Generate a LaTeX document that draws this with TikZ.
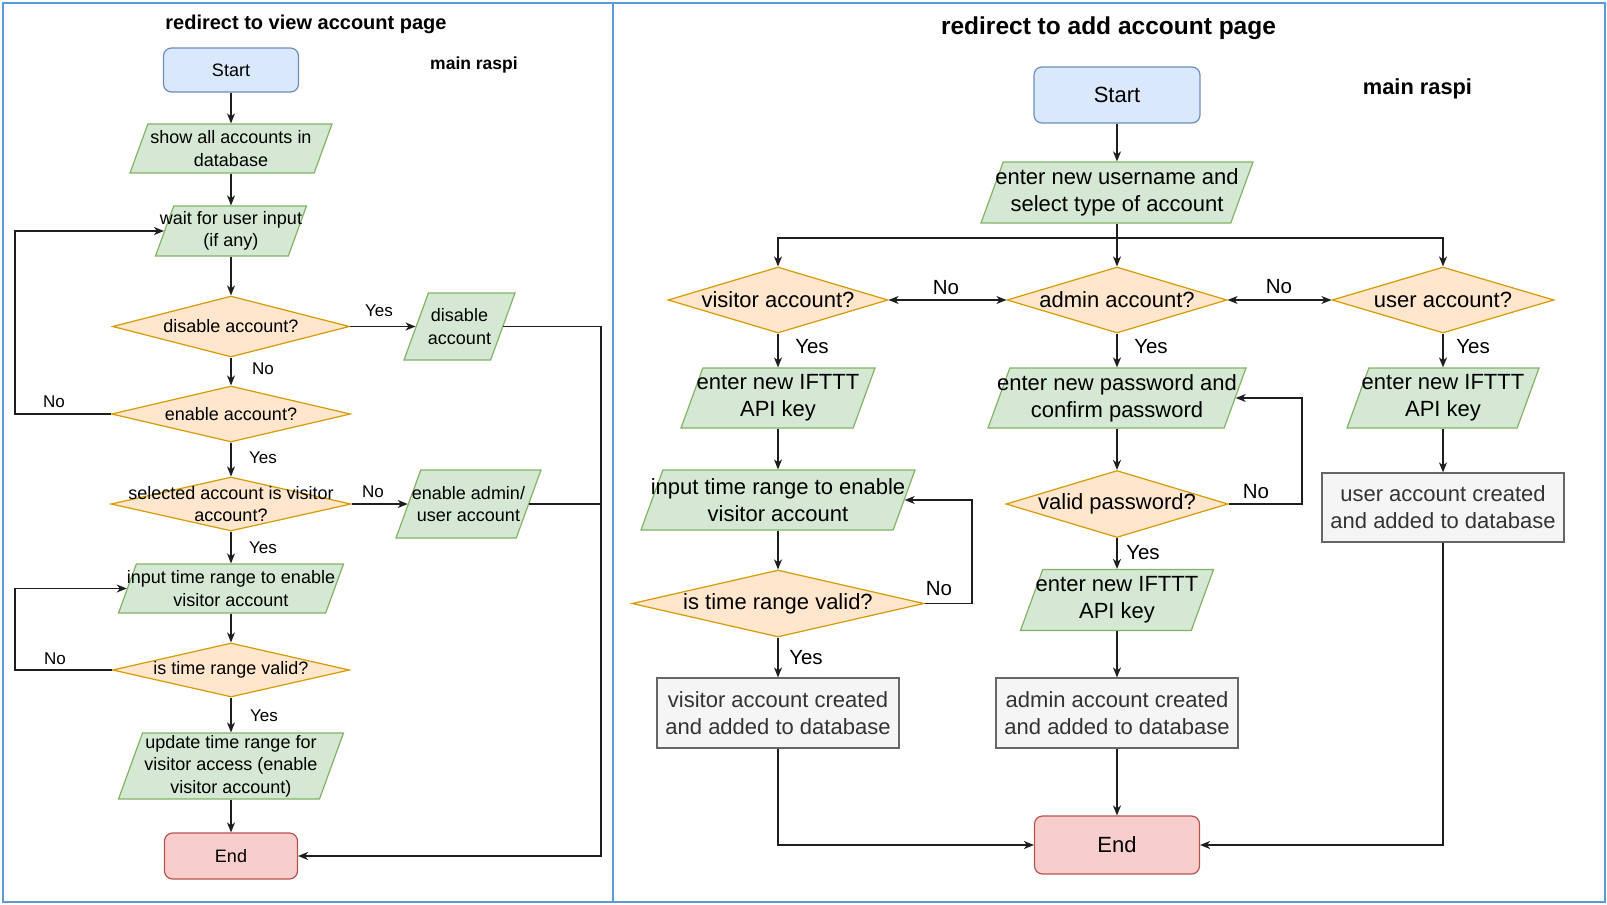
\documentclass[tikz,border=0pt]{standalone}
\usepackage{fontspec}
\setmainfont{Liberation Sans}
\usetikzlibrary{shapes.geometric,arrows.meta}

\definecolor{frameblue}{RGB}{91,155,213}
\definecolor{bluefill}{HTML}{DAE8FC}
\definecolor{blueline}{HTML}{6C8EBF}
\definecolor{greenfill}{HTML}{D5E8D4}
\definecolor{greenline}{HTML}{82B366}
\definecolor{orangefill}{HTML}{FFE6CC}
\definecolor{orangeline}{HTML}{D79B00}
\definecolor{redfill}{HTML}{F8CECC}
\definecolor{redline}{HTML}{B85450}
\definecolor{grayfill}{HTML}{F5F5F5}
\definecolor{grayline}{HTML}{666666}
\definecolor{graytext}{HTML}{333333}
\definecolor{wirecol}{HTML}{1E1E1E}

\tikzset{
  ltxt/.style={font=\fontsize{18}{22.5}\selectfont, align=center},
  rtxt/.style={font=\fontsize{22}{27}\selectfont, align=center},
  ltitle/.style={font=\bfseries\fontsize{20}{24}\selectfont},
  rtitle/.style={font=\bfseries\fontsize{24.5}{29}\selectfont},
  lhead/.style={font=\bfseries\fontsize{17.5}{21}\selectfont},
  rhead/.style={font=\bfseries\fontsize{21.8}{26}\selectfont},
  lans/.style={font=\fontsize{17}{20}\selectfont, inner sep=0pt},
  rans/.style={font=\fontsize{20.5}{24}\selectfont, inner sep=0pt},
  startbox/.style={draw=blueline, fill=bluefill, rounded corners=8pt, line width=1.2pt, inner sep=0pt},
  endbox/.style={draw=redline, fill=redfill, rounded corners=8pt, line width=1.2pt, inner sep=0pt},
  procbox/.style={draw=grayline, fill=grayfill, text=graytext, line width=1.2pt, inner sep=0pt},
  % total width / height of the slanted input box
  iobox/.style 2 args={trapezium, trapezium left angle=70, trapezium right angle=110,
    inner xsep={#1/2-#2*0.364}, inner ysep={#2/2},
    draw=greenline, fill=greenfill, line width=1.2pt},
  decision/.style={diamond, draw=orangeline, fill=orangefill, line width=1.2pt, inner sep=0pt},
  wire/.style={draw=wirecol, line width=1.3pt},
  flow/.style={wire, -{Stealth[length=10pt, width=8pt, inset=3pt]}},
  biflow/.style={wire, {Stealth[length=10pt, width=8pt, inset=3pt]}-{Stealth[length=10pt, width=8pt, inset=3pt]}}
}

\begin{document}
\begin{tikzpicture}[x=1pt, y=-1pt]
  \useasboundingbox (0,0) rectangle (1607,905);
  \draw[frameblue, line width=2.5pt] (3,3) rectangle (1605,902);
  \draw[frameblue, line width=2.5pt] (613,3) -- (613,902);

  % view account page
  \node[ltitle] (vtitle) at (306,24) {redirect to view account page};
  \node[lhead] (vmain) at (474,65) {main raspi};
  \node[startbox, ltxt, minimum width=135pt, minimum height=44pt] (vstart) at (231,70) {Start};
  \node[iobox={202}{49}, label={[ltxt]center:show all accounts in\\database}] (vshow) at (231,148.5) {};
  \node[iobox={151}{50}, label={[ltxt]center:wait for user input\\(if any)}] (vwait) at (231,231) {};
  \node[decision, minimum width=237pt, minimum height=61pt, label={[ltxt]center:disable account?}] (vdis) at (231,326.5) {};
  \node[iobox={111}{67}, label={[ltxt]center:disable\\account}] (vdisacc) at (459.5,326.5) {};
  \node[decision, minimum width=239pt, minimum height=56pt, label={[ltxt]center:enable account?}] (ven) at (231,414) {};
  \node[decision, minimum width=240pt, minimum height=54pt, label={[ltxt]center:selected account is visitor\\account?}] (vsel) at (231,504) {};
  \node[iobox={145}{68}, label={[ltxt]center:enable admin/\\user account}] (venacc) at (468.5,504) {};
  \node[iobox={225}{49}, label={[ltxt]center:input time range to enable\\visitor account}] (vtime) at (231,588.5) {};
  \node[decision, minimum width=237pt, minimum height=54pt, label={[ltxt]center:is time range valid?}] (vvalid) at (231,670) {};
  \node[iobox={225}{66}, label={[ltxt]center:update time range for\\visitor access (enable\\visitor account)}] (vupd) at (231,766) {};
  \node[endbox, ltxt, minimum width=133pt, minimum height=46pt] (vend) at (231,856) {End};
  \coordinate (vleft) at (15,0);
  \coordinate (vright) at (601,0);

  \node[lans] (vyes1) at (379,311) {Yes};
  \node[lans] (vno1) at (263,369) {No};
  \node[lans] (vno2) at (54,402) {No};
  \node[lans] (vyes2) at (263,458) {Yes};
  \node[lans] (vno3) at (373,492) {No};
  \node[lans] (vyes3) at (263,548) {Yes};
  \node[lans] (vno4) at (55,659) {No};
  \node[lans] (vyes4) at (264,716) {Yes};

  \draw[flow] (vstart) -- (vshow);
  \draw[flow] (vshow) -- (vwait);
  \draw[flow] (vwait) -- (vdis);
  \draw[flow] (vdis) -- (ven);
  \draw[flow] (ven) -- (vsel);
  \draw[flow] (vsel) -- (vtime);
  \draw[flow] (vtime) -- (vvalid);
  \draw[flow] (vvalid) -- (vupd);
  \draw[flow] (vupd) -- (vend);
  \draw[flow] (vdis) -- (vdisacc);
  \draw[flow] (vsel) -- (venacc);
  \draw[flow] (ven.west) -- (ven.west -| vleft) |- (vwait.west);
  \draw[flow] (vvalid.west) -- (vvalid.west -| vleft) |- (vtime.west);
  \draw[flow] (vdisacc.east) -- (vdisacc.east -| vright) |- (vend.east);
  \draw[wire] (venacc.east) -- (venacc.east -| vright);

  % add account page
  \node[rtitle] (atitle) at (1108.5,28) {redirect to add account page};
  \node[rhead] (amain) at (1417.5,89) {main raspi};
  \node[startbox, rtxt, minimum width=166pt, minimum height=56pt] (astart) at (1117,95) {Start};
  \node[iobox={272}{61}, label={[rtxt]center:enter new username and\\select type of account}] (aname) at (1117,192.5) {};
  \coordinate (asplit) at (1117,238);
  \node[decision, minimum width=220pt, minimum height=66pt, label={[rtxt]center:visitor account?}] (avis) at (778,300) {};
  \node[decision, minimum width=220pt, minimum height=66pt, label={[rtxt]center:admin account?}] (aadm) at (1117,300) {};
  \node[decision, minimum width=222pt, minimum height=66pt, label={[rtxt]center:user account?}] (ausr) at (1443,300) {};
  \node[iobox={194}{60}, label={[rtxt]center:enter new IFTTT\\API key}] (avkey) at (778,398) {};
  \node[iobox={258}{60}, label={[rtxt]center:enter new password and\\confirm password}] (apass) at (1117,398) {};
  \node[iobox={192}{60}, label={[rtxt]center:enter new IFTTT\\API key}] (aukey) at (1443,398) {};
  \node[iobox={274}{60}, label={[rtxt]center:input time range to enable\\visitor account}] (atime) at (778,500) {};
  \node[decision, minimum width=222pt, minimum height=67pt, label={[rtxt]center:valid password?}] (apw) at (1117,504) {};
  \node[procbox, rtxt, minimum width=242pt, minimum height=69pt] (aucr) at (1443,507.5) {user account created\\and added to database};
  \node[decision, minimum width=292pt, minimum height=67pt, label={[rtxt]center:is time range valid?}] (avalid) at (778,603.5) {};
  \node[iobox={193}{61}, label={[rtxt]center:enter new IFTTT\\API key}] (aakey) at (1117,600) {};
  \node[procbox, rtxt, minimum width=242pt, minimum height=70pt] (avcr) at (778,713) {visitor account created\\and added to database};
  \node[procbox, rtxt, minimum width=242pt, minimum height=70pt] (aacr) at (1117,713) {admin account created\\and added to database};
  \node[endbox, rtxt, minimum width=165pt, minimum height=58pt] (aend) at (1117,845) {End};
  \coordinate (avloop) at (972,0);
  \coordinate (aploop) at (1302,0);

  \node[rans] (ano1) at (946,288) {No};
  \node[rans] (ano2) at (1279,287) {No};
  \node[rans] (ayes1) at (812,347) {Yes};
  \node[rans] (ayes2) at (1151,347) {Yes};
  \node[rans] (ayes3) at (1473,347) {Yes};
  \node[rans] (ano3) at (1256,492) {No};
  \node[rans] (ayes4) at (1143,553) {Yes};
  \node[rans] (ano4) at (939,589) {No};
  \node[rans] (ayes5) at (806,658) {Yes};

  \draw[flow] (astart) -- (aname);
  \draw[flow] (aname) -- (aadm);
  \draw[flow] (asplit) -| (avis);
  \draw[flow] (asplit) -| (ausr);
  \draw[biflow] (avis) -- (aadm);
  \draw[biflow] (aadm) -- (ausr);
  \draw[flow] (avis) -- (avkey);
  \draw[flow] (aadm) -- (apass);
  \draw[flow] (ausr) -- (aukey);
  \draw[flow] (avkey) -- (atime);
  \draw[flow] (atime) -- (avalid);
  \draw[flow] (avalid) -- (avcr);
  \draw[flow] (apass) -- (apw);
  \draw[flow] (apw) -- (aakey);
  \draw[flow] (aakey) -- (aacr);
  \draw[flow] (aacr) -- (aend);
  \draw[flow] (aukey) -- (aucr);
  \draw[flow] (avalid.east) -- (avalid.east -| avloop) |- (atime.east);
  \draw[flow] (apw.east) -- (apw.east -| aploop) |- (apass.east);
  \draw[flow] (avcr.south) |- (aend.west);
  \draw[flow] (aucr.south) |- (aend.east);
\end{tikzpicture}
\end{document}
